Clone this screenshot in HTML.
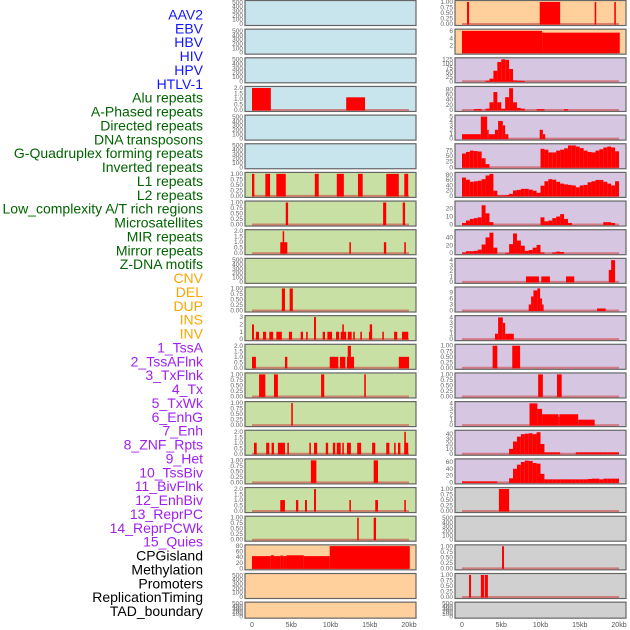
<!DOCTYPE html>
<html><head><meta charset="utf-8"><style>
html,body{margin:0;padding:0;background:#fff}
svg{display:block}
.lab{font-family:"Liberation Sans",sans-serif;font-size:14px}
.tk{font-family:"Liberation Sans",sans-serif;font-size:6.5px;fill:#666}
.xt{font-family:"Liberation Sans",sans-serif;font-size:7px;fill:#555}
</style></head><body>
<svg id="c" width="630" height="630" viewBox="0 0 630 630"></svg>
<script>
const trackLabels = ["AAV2","EBV","HBV","HIV","HPV","HTLV-1","Alu repeats","A-Phased repeats","Directed repeats","DNA transposons","G-Quadruplex forming repeats","Inverted repeats","L1 repeats","L2 repeats","Low_complexity A/T rich regions","Microsatellites","MIR repeats","Mirror repeats","Z-DNA motifs","CNV","DEL","DUP","INS","INV","1_TssA","2_TssAFlnk","3_TxFlnk","4_Tx","5_TxWk","6_EnhG","7_Enh","8_ZNF_Rpts","9_Het","10_TssBiv","11_BivFlnk","12_EnhBiv","13_ReprPC","14_ReprPCWk","15_Quies","CPGisland","Methylation","Promoters","ReplicationTiming","TAD_boundary"];
const labelColors = ["#1414ff","#1414ff","#1414ff","#1414ff","#1414ff","#1414ff","#006400","#006400","#006400","#006400","#006400","#006400","#006400","#006400","#006400","#006400","#006400","#006400","#006400","#ffa500","#ffa500","#ffa500","#ffa500","#ffa500","#a020f0","#a020f0","#a020f0","#a020f0","#a020f0","#a020f0","#a020f0","#a020f0","#a020f0","#a020f0","#a020f0","#a020f0","#a020f0","#a020f0","#a020f0","#000","#000","#000","#000","#000"];
const xTicks = [0,5,10,15,20];
const xTickLabels = ["0","5kb","10kb","15kb","20kb"];
const T500 = ["0","100","200","300","400","500"];
const T1 = ["0.00","0.25","0.50","0.75","1.00"];
const T2 = ["0.0","0.5","1.0","1.5","2.0"];
// segments [startKb, endKb, value]
const L3 = [[0,2.4,2],[12,14.4,1.15]];
const L6 = [[0,0.3,1],[1.7,2.3,1],[3.1,4.3,1],[8.0,8.5,1],[10.8,11.7,1],[13.5,14.1,1],[17.1,18.7,1],[19.4,19.9,1]];
const L7 = [[4.3,4.6,1],[16.7,17.1,1],[19.2,19.5,1]];
const L8 = [[3.6,4.5,1],[3.9,4.1,2],[12.4,12.6,1],[16.8,17.1,1],[19.4,19.6,1]];
const L10 = [[3.8,4.2,1],[4.8,5.2,1]];
const L11 = [[0.5,0.9,1],[1.4,1.8,1],[2.2,2.7,1],[3.1,3.8,1],[4.7,5.1,1],[6.2,6.5,1],[6.9,7.1,1],[9.0,9.3,1],[9.6,10.2,1],[10.7,11.1,1],[11.3,12.0,1],[12.2,12.7,1],[12.9,13.1,1],[13.8,14.0,1],[14.9,15.3,1],[16.6,16.8,1],[18.1,18.5,1],[19.1,19.9,1],[0,0.25,2],[11.5,11.7,2],[15.0,15.3,2],[7.9,8.15,3]];
const L12 = [[0,0.5,1],[4.2,4.5,1],[9.9,11.0,1],[11.2,11.9,1],[12.1,13.0,1],[18.7,20.0,1],[12.2,12.6,2]];
const L13 = [[0.9,1.7,1],[2.8,3.3,1],[8.8,9.2,1],[14.3,14.5,1]];
const L14 = [[5.0,5.2,1]];
const L15 = [[0.25,0.6,1],[1.8,2.2,1],[2.5,2.8,1],[3.3,4.2,1],[4.5,4.7,1],[7.3,7.5,1],[7.9,8.3,1],[9.4,9.7,1],[10.3,10.6,1],[10.8,11.3,1],[11.5,11.7,1],[12.1,12.6,1],[13.4,13.9,1],[15.3,15.7,1],[17.1,17.5,1],[18.1,18.3,1],[18.6,18.9,1],[19.4,19.9,1],[19.4,19.6,2]];
const L16 = [[7.5,8.2,1],[15.5,16.05,1]];
const L17 = [[3.6,4.2,1],[5.6,5.9,1],[6.75,7.0,1],[12.4,12.6,1],[15.7,16.05,1],[19.4,19.6,1],[7.9,8.15,2]];
const L18 = [[13.4,13.6,1],[15.5,15.8,1]];
const L19 = [[0,2.4,44],[2.4,2.8,47],[2.8,3.6,44],[3.6,4.0,46],[4.0,4.4,44],[4.4,6.6,47],[6.6,9.9,44],[9.9,20.1,80]];
const R0 = [[0.64,0.9,1],[9.9,12.5,1],[16.9,17.1,1],[19.4,19.6,1]];
const R1 = [[0,10.2,6.1],[10.2,20.1,5.6]];
const R4 = [[0,2.4,1],[2.4,3.2,5],[3.2,3.4,2],[3.4,4.2,1],[4.2,4.6,2],[4.6,5.2,4],[5.2,5.5,3],[5.5,5.9,1],[9.9,10.3,2],[10.3,10.6,1]];
const R9 = [[8.15,9.8,1],[10.1,11.2,1],[13.25,14.3,1],[18.7,19.1,2.2],[19.0,19.5,4]];
const R10 = [[8.5,8.8,3],[8.8,9.1,7],[9.1,9.6,10],[9.6,9.95,11],[9.95,10.2,6],[10.2,10.4,3],[17.2,18.3,1]];
const R11 = [[4.2,4.6,1],[4.6,5.2,4],[5.2,5.5,3],[5.5,6.6,1]];
const R12 = [[3.9,4.5,1],[6.4,7.4,1]];
const R13 = [[9.7,10.3,1],[12.1,12.7,1]];
const R14 = [[8.6,9.6,4],[9.6,10.2,3],[10.2,12.3,2],[12.3,12.4,1.5],[12.4,14.8,2],[14.8,16.9,1]];
const R17 = [[4.7,6.0,1]];
const R19 = [[5.1,5.35,1]];
const R20 = [[0.9,1.15,1],[2.4,2.8,1],[2.9,3.3,1]];
// binned densities (0.5kb bins)
const R2 = [0,0,0,0,0,0,3,15,60,110,125,122,70,5,3,2,0,0,0,0,0,0,0,0,0,0,0,0,0,0,0,0,0,0,0,0,0,0,0,0];
const R3 = [0,0,0,3,4,0,5,30,70,30,5,50,85,30,8,5,0,0,0,3,3,0,0,0,0,0,3,0,0,0,0,0,0,0,0,0,0,0,0,0];
const R5 = [61,68,74,72,70,40,14,0,0,0,0,0,0,0,0,0,0,0,0,0,82,78,66,66,74,78,84,97,97,92,85,74,68,66,74,80,88,92,88,71];
const R6 = [70,62,54,56,58,64,78,84,20,2,2,3,8,21,23,27,27,24,20,12,39,56,64,62,54,47,44,42,40,33,40,42,52,56,61,61,54,47,40,56];
const R7 = [2,5,7,8,9,24,14,3,0,0,0,0,0,0,0,0,0,0,0,0,9,4,5,8,10,13,7,2,0,0,0,0,0,0,0,0,3,3,2,0];
const R8 = [2,5,5,6,9,22,40,52,14,0,0,1,23,50,32,19,6,8,14,21,2,0,0,2,4,3,0,0,0,0,0,0,0,0,0,0,0,0,0,0];
const R15 = [0,0,0,0,0,0,0,0,0,0,0,0,10,25,35,40,41,42,40,44,20,3,3,3,3,0,0,0,0,3,3,3,3,3,3,3,3,3,3,3];
const R16 = [3,3,3,3,3,3,3,3,3,0,0,0,12,40,52,60,64,63,57,55,25,9,9,9,9,9,9,9,9,9,9,9,10,11,11,9,11,11,11,11];

const BLUE="#c8e4ec",GREEN="#c8e0a4",ORANGE="#ffd09c",PURPLE="#d6c6e2",GRAY="#d0d0d0";
const panels = [
 ["L",0,BLUE,T500,520,null,null],["L",1,BLUE,T500,520,null,null],["L",2,BLUE,T500,520,null,null],
 ["L",3,BLUE,T2,2.05,L3,null],["L",4,BLUE,T500,520,null,null],["L",5,BLUE,T500,520,null,null],
 ["L",6,GREEN,T1,1.02,L6,null],["L",7,GREEN,T1,1.02,L7,null],["L",8,GREEN,T2,2.05,L8,null],
 ["L",9,GREEN,T500,520,null,null],["L",10,GREEN,T1,1.02,L10,null],["L",11,GREEN,["0","1","2","3"],3.05,L11,null],
 ["L",12,GREEN,T2,2.05,L12,null],["L",13,GREEN,T1,1.02,L13,null],["L",14,GREEN,T1,1.02,L14,null],
 ["L",15,GREEN,T2,2.05,L15,null],["L",16,GREEN,T1,1.02,L16,null],["L",17,GREEN,T2,2.05,L17,null],
 ["L",18,GREEN,T1,1.02,L18,null],["L",19,ORANGE,["0","20","40","60","80"],81,L19,null],
 ["L",20,ORANGE,T500,520,null,null],["L",21,ORANGE,T500,520,null,null],
 ["R",0,ORANGE,T1,1.02,R0,null],["R",1,ORANGE,["2","4","6"],6.3,R1,null],
 ["R",2,PURPLE,["0","25","50","75","100","125"],128,null,R2],["R",3,PURPLE,["0","20","40","60","80"],88,null,R3],
 ["R",4,PURPLE,["0","1","2","3","4","5"],5.1,R4,null],["R",5,PURPLE,["0","25","50","75"],100,null,R5],
 ["R",6,PURPLE,["0","20","40","60","80"],86,null,R6],["R",7,PURPLE,["0","10","20"],28,null,R7],
 ["R",8,PURPLE,["0","20","40"],57,null,R8],["R",9,PURPLE,["0","1","2","3","4"],4.15,R9,null],
 ["R",10,PURPLE,["0","3","6","9"],11.2,R10,null],["R",11,PURPLE,["0","1","2","3","4"],4.15,R11,null],
 ["R",12,PURPLE,T1,1.02,R12,null],["R",13,PURPLE,T1,1.02,R13,null],
 ["R",14,PURPLE,["0","1","2","3","4"],4.15,R14,null],["R",15,PURPLE,["0","10","20","30","40"],46,null,R15],
 ["R",16,PURPLE,["0","20","40","60"],66,null,R16],["R",17,GRAY,T1,1.02,R17,null],
 ["R",18,GRAY,T500,520,null,null],["R",19,GRAY,T1,1.02,R19,null],
 ["R",20,GRAY,T1,1.02,R20,null],["R",21,GRAY,T500,520,null,null]
];
const NS="http://www.w3.org/2000/svg";
const svg=document.getElementById('c');
function mk(t,a,p){const e=document.createElementNS(NS,t);for(const k in a)e.setAttribute(k,a[k]);(p||svg).appendChild(e);return e;}
const labStep=(611-14.5)/43;
trackLabels.forEach((t,i)=>{
 const e=mk('text',{x:203,y:14.5+i*labStep+5,'text-anchor':'end',class:'lab',fill:labelColors[i]});
 
 
 e.textContent=t;
});
function rowTop(r){return r*28.65;}
function rowH(r){return r===21?16:25;}
panels.forEach(p=>{
 const [side,row,bg,ticks,ymax,segs,bins]=p;
 const bx=side==="L"?245:455, x0=side==="L"?252:462, bw=171;
 const top=rowTop(row)+0.5, h=rowH(row), bot=top+h;
 const xs=kb=>x0+kb/20*157;
 const ys=v=>bot-1.5-(v/ymax)*(h-2.5);
 const g=mk('g',{});
 
 
 const r=mk('rect',{x:bx,y:top,width:bw,height:h,fill:bg,stroke:'#666','stroke-width':1.2},g);
 
 
 ticks.forEach(t=>{
  const e=mk('text',{x:bx-2,y:ys(parseFloat(t))+2,'text-anchor':'end',class:'tk'},g);
  
  
  e.textContent=t;
 });
 let all=[];
 if(segs) all=segs;
 if(bins) all=bins.map((v,k)=>[k*0.5,(k+1)*0.5,v]).filter(s=>s[2]>0);
 if(segs||bins){
  const l=mk('line',{x1:xs(0),x2:xs(20),y1:ys(0),y2:ys(0),stroke:'rgba(205,70,70,0.6)','stroke-width':2},g);
  
  
 }
 all.forEach(s=>{
  const y=ys(s[2]);
  const b=mk('rect',{x:xs(s[0]),y:Math.max(top,y),width:Math.max(0.8,xs(s[1])-xs(s[0])),height:ys(0)-Math.max(top,y)+0.5,fill:'#ff0000'},g);
  
  
 });
});
["L","R"].forEach(side=>{
 const x0=side==="L"?252:462;
 xTicks.forEach((v,i)=>{
  const e=mk('text',{x:x0+v/20*157,y:627,'text-anchor':'middle',class:'xt'});
  
  
  e.textContent=xTickLabels[i];
 });
});
</script>
</body></html>
